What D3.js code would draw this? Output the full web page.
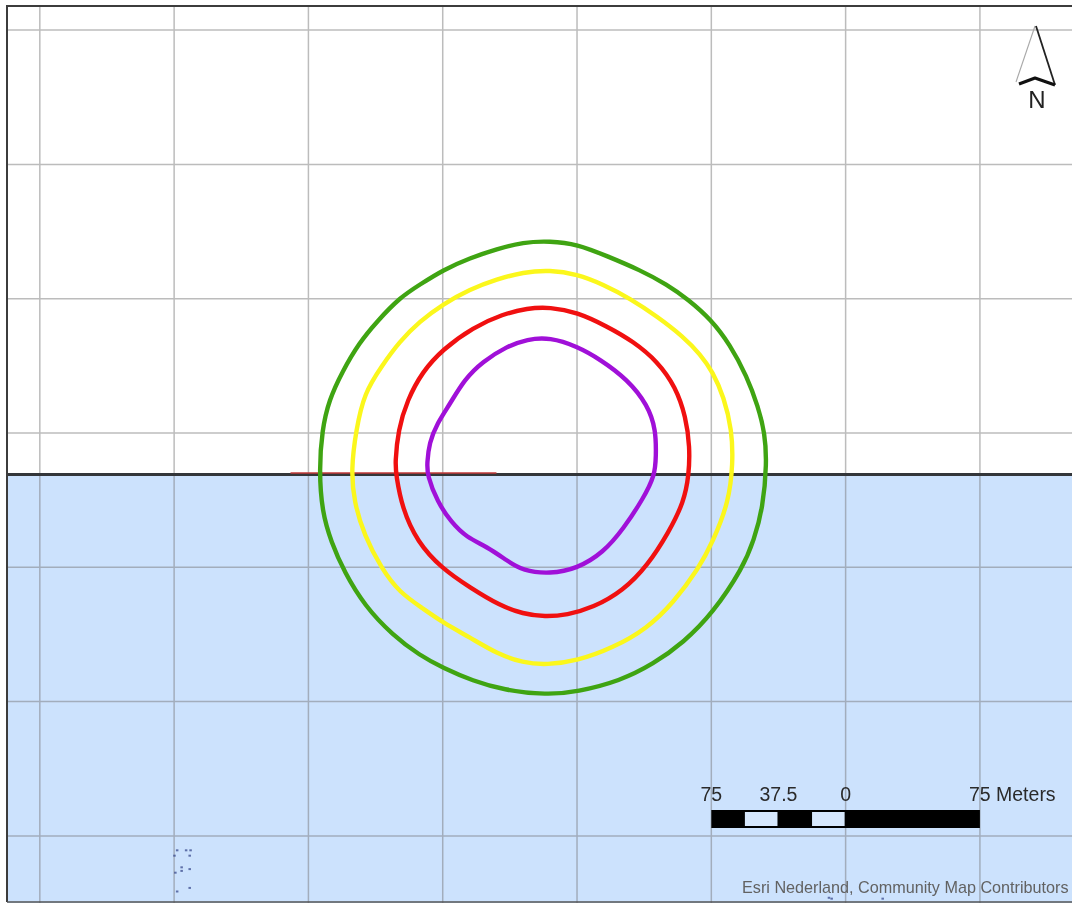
<!DOCTYPE html>
<html>
<head>
<meta charset="utf-8">
<script src="https://cdnjs.cloudflare.com/ajax/libs/d3/7.8.5/d3.min.js"></script>
<style>
  html, body { margin: 0; padding: 0; background: #fff; }
  svg { display: block; }
  text { font-family: "Liberation Sans", Arial, sans-serif; }
</style>
</head>
<body>
<svg id="map"></svg>
<script>
// all map values in metres, east / north of the centre of the rings
const gridEast = [-281, -206, -131, -56, 19, 94, 169, 244];
const gridNorth = [244, 169, 94, 19, -56, -131, -206];

const greenRing = [[3.9,126.2],[19,124.5],[35.7,117.8],[54.2,110],[69.3,101.9],[81,93.6],[93.8,82.4],[104.4,68.4],[113.9,50.6],[120.1,33.8],[123.9,19],[125,2.2],[122.8,-22.9],[117.8,-40.8],[111.6,-56.4],[94.7,-81.8],[78.5,-98],[61.7,-110],[43,-119.5],[19,-125.6],[2.2,-127.3],[-22.3,-124.5],[-39.1,-119.5],[-55.9,-112.2],[-68.7,-105.3],[-83.8,-94.1],[-99.7,-77.4],[-111,-58.6],[-118.3,-41.9],[-123.4,-25.1],[-125,-1.7],[-123.4,20.7],[-119.5,37.4],[-112.2,53.1],[-102.5,69.6],[-92.7,81.3],[-79.9,94.7],[-68.7,101.9],[-55.9,110],[-40.8,116.7],[-25.7,121.7],[-11.2,125.6]];
const yellowRing = [[3.9,110],[19,107.7],[33.5,102],[48.6,94.1],[63.7,84.1],[78.2,72.9],[87.9,62.9],[94.8,53.1],[101,39.1],[105.5,20.7],[106.1,2.2],[103.8,-19.5],[94.8,-41.9],[86.9,-56.7],[72.9,-75.7],[58.1,-90.2],[39.1,-101],[19,-108.3],[2.2,-110.5],[-11.2,-109.4],[-25.7,-104.3],[-40.8,-95.2],[-55.9,-86.9],[-67.3,-78.9],[-80.2,-70],[-90.2,-56.7],[-99.9,-38],[-105.5,-19.5],[-107.2,-1.7],[-104.4,20.7],[-99.8,41.3],[-90.2,56.2],[-80.2,70],[-68.9,81.3],[-55.9,90.9],[-40.8,99.3],[-25.7,104.9],[-11.2,108.8]];
const redRing = [[3.9,89.3],[19,86.5],[35.7,78.6],[50.5,70.1],[64,58.9],[74.1,44.7],[79.8,27.9],[82,11.2],[81.5,-4.5],[78.7,-19.5],[70.2,-36.5],[58.4,-55],[44.9,-69],[27.9,-78.6],[13.4,-82.6],[1.1,-83.7],[-11.2,-82],[-24,-77.5],[-40.8,-67.3],[-56.6,-56.6],[-70.2,-41.9],[-78.7,-22.9],[-82,-4.5],[-82.6,2.2],[-80.9,20.7],[-75.8,37.4],[-67.3,53.3],[-56.1,65.6],[-39.1,78],[-22.3,85.4],[-8.9,88.7]];
const purpleRing = [[3.9,72.4],[19,67.4],[32,60.1],[47.2,48.9],[58.5,34.6],[63.1,20.7],[63.1,5.6],[62.5,-4.5],[56.2,-17.3],[45,-34.4],[33.7,-47.8],[19,-56.8],[3.9,-59.7],[-11.2,-58],[-20.1,-52.3],[-31.3,-44.5],[-42.6,-39.4],[-51.2,-30.9],[-59,-19.5],[-64.7,-4.5],[-64.7,2.2],[-63.6,13.4],[-59,24.6],[-52.2,34.8],[-43.9,48.9],[-33.7,58.9],[-20.1,67.4],[-8.9,71.4]];

const shoreNorth = -4.2;
const redShore = [-141, -26];

const scaleOrigin = 169; // the 0 of the scale bar
const scaleBlocks = [[-56.25,-37.5],[-18.75,0]];
const scaleTicks = [[-75,'75'],[-37.5,'37.5'],[0,'0'],[75,'75 Meters']];

const specks = [[-205,-213.5],[-200,-213.5],[-197.5,-213.5],[-206.5,-216.5],[-198,-216.5],[-202.5,-223],[-202.5,-225],[-198,-224],[-206,-226],[-205,-236.5],[-198,-234.5],[159,-240],[160.5,-240.5],[189,-240.5]];

const width = 1072, height = 903;
const cx = 543, cy = 467, pxPerMetre = 134.3 / 75;
const landGrid = '#bcbcbc', waterGrid = '#a2adbc';

const x = d3.scaleLinear().domain([0, 100]).range([cx, cx + 100 * pxPerMetre]);
const y = d3.scaleLinear().domain([0, 100]).range([cy, cy - 100 * pxPerMetre]);

const svg = d3.select('#map')
  .attr('width', width)
  .attr('height', height)
  .attr('viewBox', [0, 0, width, height]);

svg.append('defs').append('filter').attr('id', 'soft')
  .attr('color-interpolation-filters', 'sRGB')
  .append('feGaussianBlur').attr('stdDeviation', 0.6);

const g = svg.append('g').attr('filter', 'url(#soft)');

// Land and water
const frameLeft = 7, frameTop = 6;
g.append('rect')
  .attr('x', frameLeft).attr('y', frameTop)
  .attr('width', width - frameLeft).attr('height', height - frameTop)
  .attr('fill', '#fff');
g.append('rect')
  .attr('x', frameLeft).attr('y', y(shoreNorth))
  .attr('width', width - frameLeft).attr('height', height - y(shoreNorth))
  .attr('fill', '#cce2fd');

// Grid, a little darker over the water
g.append('g')
  .selectAll('line')
  .data(gridEast)
  .join('line')
    .attr('x1', d => x(d)).attr('x2', d => x(d))
    .attr('y1', frameTop).attr('y2', y(shoreNorth))
    .attr('stroke', landGrid)
    .attr('stroke-width', 1.5);
g.append('g')
  .selectAll('line')
  .data(gridEast)
  .join('line')
    .attr('x1', d => x(d)).attr('x2', d => x(d))
    .attr('y1', y(shoreNorth)).attr('y2', height)
    .attr('stroke', waterGrid)
    .attr('stroke-width', 1.5);
g.append('g')
  .selectAll('line')
  .data(gridNorth)
  .join('line')
    .attr('x1', frameLeft).attr('x2', width)
    .attr('y1', d => y(d)).attr('y2', d => y(d))
    .attr('stroke', d => d > shoreNorth ? landGrid : waterGrid)
    .attr('stroke-width', 1.5);

// Shoreline
g.append('line')
  .attr('x1', frameLeft).attr('x2', width)
  .attr('y1', y(shoreNorth)).attr('y2', y(shoreNorth))
  .attr('stroke', '#33363a')
  .attr('stroke-width', 3);
g.append('line')
  .attr('x1', x(redShore[0])).attr('x2', x(redShore[1]))
  .attr('y1', y(shoreNorth) - 1.5).attr('y2', y(shoreNorth) - 1.5)
  .attr('stroke', '#c23a3a')
  .attr('stroke-width', 1.4);

// Rings
const ring = d3.line()
  .x(d => x(d[0]))
  .y(d => y(d[1]))
  .curve(d3.curveBasisClosed);

const rings = [[greenRing, '#3fa412'], [yellowRing, '#fbf71c'], [redRing, '#f01010'], [purpleRing, '#a010d8']];
g.append('g')
  .selectAll('path')
  .data(rings)
  .join('path')
    .attr('d', d => ring(d[0]))
    .attr('fill', 'none')
    .attr('stroke', d => d[1])
    .attr('stroke-width', 4.4);

// Scale bar
const barY = 810, barH = 18;
const bar = g.append('g');
bar.append('rect')
  .attr('x', x(scaleOrigin - 75)).attr('y', barY)
  .attr('width', x(scaleOrigin + 75) - x(scaleOrigin - 75)).attr('height', barH)
  .attr('fill', '#000');
bar.selectAll('.block')
  .data(scaleBlocks)
  .join('rect')
    .attr('class', 'block')
    .attr('x', d => x(scaleOrigin + d[0]))
    .attr('y', barY + 2)
    .attr('width', d => x(scaleOrigin + d[1]) - x(scaleOrigin + d[0]) - 1)
    .attr('height', barH - 4)
    .attr('fill', '#d6e7fc');
bar.selectAll('text')
  .data(scaleTicks)
  .join('text')
    .attr('x', d => x(scaleOrigin + d[0]))
    .attr('y', 801)
    .attr('dx', d => d[1].length > 4 ? -11 : 0)
    .attr('text-anchor', d => d[1].length > 4 ? 'start' : 'middle')
    .attr('font-size', 19.5)
    .attr('fill', '#2a2a2a')
    .text(d => d[1]);

// Stray label fragments from the basemap
g.append('g')
  .selectAll('rect')
  .data(specks)
  .join('rect')
    .attr('x', d => x(d[0]))
    .attr('y', d => y(d[1]))
    .attr('width', 2.5)
    .attr('height', 2)
    .attr('fill', '#3a4a8c')
    .attr('fill-opacity', 0.75);

g.append('text')
  .attr('x', 742).attr('y', 893)
  .attr('font-size', 16.2)
  .attr('fill', '#626262')
  .text('Esri Nederland, Community Map Contributors');

// North arrow
const north = g.append('g').attr('fill', 'none').attr('stroke-linejoin', 'round');
north.append('path').attr('d', 'M1035 26L1016 82').attr('stroke', '#a8a8a8').attr('stroke-width', 1.1);
north.append('path').attr('d', 'M1036 26L1055 85').attr('stroke', '#222').attr('stroke-width', 1.8);
north.append('path').attr('d', 'M1019 84L1035 78L1055 85').attr('stroke', '#111').attr('stroke-width', 3.2);
g.append('text')
  .attr('x', 1037).attr('y', 108)
  .attr('text-anchor', 'middle')
  .attr('font-size', 24)
  .attr('fill', '#222')
  .text('N');

// Frame
g.append('path')
  .attr('d', `M${frameLeft} ${height - 1}V${frameTop}H${width}`)
  .attr('fill', 'none')
  .attr('stroke', '#3c3c3c')
  .attr('stroke-width', 2);
g.append('line')
  .attr('x1', frameLeft).attr('x2', width)
  .attr('y1', height - 1).attr('y2', height - 1)
  .attr('stroke', '#555')
  .attr('stroke-width', 1.5);
</script>
</body>
</html>
